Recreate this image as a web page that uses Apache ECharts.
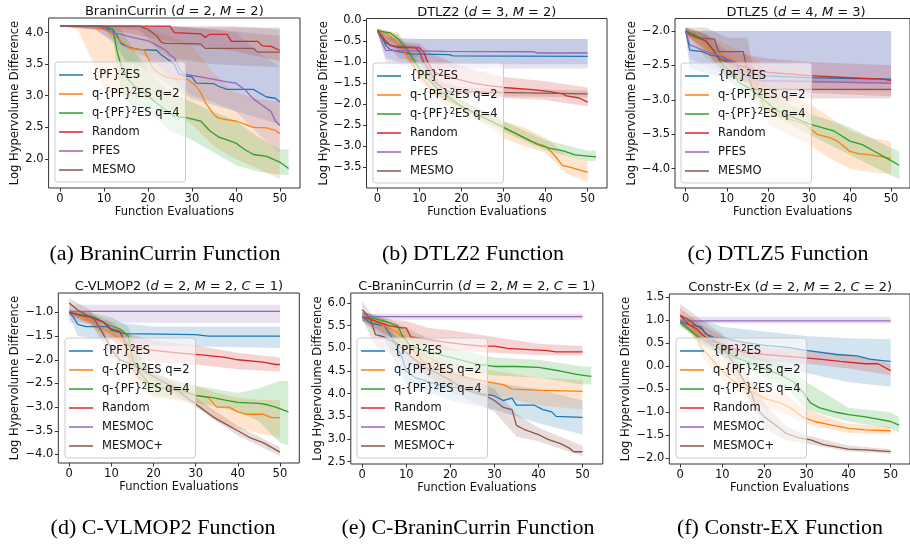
<!DOCTYPE html>
<html>
<head>
<meta charset="utf-8">
<script src="https://cdn.jsdelivr.net/npm/echarts@6/dist/echarts.min.js"></script>
<style>
html,body{margin:0;padding:0;background:#fff}
#chart{width:910px;height:548px}
</style>
</head>
<body>
<div id="chart"></div>
<script>
// tab10 colours, same order as the legends
const colors = ['#1f77b4','#ff7f0e','#2ca02c','#d62728','#9467bd','#8c564b']
const xTicks = [0,10,20,30,40,50]
const topNames = ['{PF}²ES','q-{PF}²ES q=2','q-{PF}²ES q=4','Random','PFES','MESMO']
const botNames = ['{PF}²ES','q-{PF}²ES q=2','q-{PF}²ES q=4','Random','MESMOC','MESMOC+']

const aTicks = [2.0,2.5,3.0,3.5,4.0]
const bTicks = [-3.5,-3.0,-2.5,-2.0,-1.5,-1.0,-0.5,0.0]
const cTicks = [-4.0,-3.5,-3.0,-2.5,-2.0]
const dTicks = [-4.0,-3.5,-3.0,-2.5,-2.0,-1.5,-1.0]
const eTicks = [2.5,3.0,3.5,4.0,4.5,5.0,5.5,6.0]
const fTicks = [-2.0,-1.5,-1.0,-0.5,0.0,0.5,1.0,1.5]

// mean curves [x, y] and bands [x, low, high]
// (a) BraninCurrin
const a_pf2es = [[0,4.1],[8,4.1],[10,4.07],[12,4.05],[13,3.95],[14,3.82],[16,3.76],[18,3.73],[22,3.72],[23,3.65],[24,3.6],[26,3.5],[27,3.35],[28,3.32],[30,3.3],[31,3.2],[35,3.19],[36,3.15],[38,3.1],[44,3.1],[45,3.06],[47,2.98],[49,2.96],[50,2.9]]
const a_pf2es_band = [[0,4.1,4.1],[8,4.05,4.1],[12,3.85,4.1],[15,3.55,4.1],[20,3.4,4.1],[25,3.15,4.1],[30,2.95,4.08],[35,2.85,4.08],[40,2.75,4.08],[45,2.65,4.08],[50,2.55,4.08]]
const a_q2 = [[0,4.1],[5,4.1],[8,4.08],[10,4.05],[12,3.98],[14,3.85],[16,3.75],[19,3.73],[20,3.6],[21,3.45],[22,3.38],[24,3.3],[26,3.27],[29,3.26],[31,3.15],[32,3.05],[33,2.9],[35,2.7],[36,2.65],[38,2.62],[40,2.6],[42,2.55],[44,2.5],[47,2.49],[49,2.45],[50,2.4]]
const a_q2_band = [[0,4.1,4.1],[4,4.05,4.1],[7,3.6,4.1],[10,3.1,4.1],[15,3.0,4.1],[20,2.95,4.05],[25,2.8,3.95],[30,2.55,3.8],[35,2.2,3.35],[40,2.0,3.05],[45,1.85,2.95],[50,1.68,2.9]]
const a_q4 = [[0,4.1],[10,4.1],[12,4.05],[13,3.7],[14,3.45],[15,3.3],[17,3.15],[20,3.0],[22,2.88],[24,2.78],[26,2.68],[29,2.65],[32,2.6],[34,2.45],[36,2.35],[38,2.3],[40,2.25],[42,2.15],[44,2.07],[47,2.04],[50,1.95],[52,1.85]]
const a_q4_band = [[0,4.1,4.1],[10,4.05,4.1],[12,3.9,4.1],[14,3.0,4.05],[16,2.85,3.8],[20,2.75,3.4],[25,2.45,3.05],[30,2.3,2.9],[35,2.1,2.75],[40,1.9,2.6],[45,1.8,2.35],[50,1.75,2.15],[52,1.75,2.15]]
const a_random = [[0,4.1],[25,4.1],[26,4.0],[32,3.98],[33,3.92],[34,3.97],[38,3.97],[39,3.86],[45,3.86],[46,3.79],[48,3.78],[50,3.72]]
const a_random_band = [[0,4.1,4.1],[15,4.0,4.1],[25,3.85,4.1],[30,3.8,4.1],[40,3.7,4.1],[50,3.55,4.05]]
const a_pfes = [[0,4.1],[8,4.1],[10,4.07],[12,4.0],[14,3.97],[16,3.93],[18,3.9],[20,3.87],[22,3.8],[24,3.72],[25,3.65],[26,3.6],[27,3.45],[28,3.35],[30,3.32],[32,3.3],[35,3.26],[38,3.22],[40,3.2],[42,3.1],[44,2.95],[46,2.85],[48,2.75],[49,2.6],[50,2.53]]
const a_pfes_band = [[0,4.1,4.1],[8,4.05,4.1],[15,3.75,4.1],[20,3.6,4.1],[25,3.3,4.1],[30,3.0,4.08],[35,2.9,4.05],[40,2.75,4.0],[45,2.4,3.7],[50,2.1,3.45]]
const a_mesmo = [[0,4.1],[18,4.1],[20,4.05],[22,3.95],[23,3.85],[24,3.83],[32,3.82],[33,3.75],[44,3.75],[45,3.69],[50,3.69]]
const a_mesmo_band = [[0,4.1,4.1],[18,4.05,4.1],[22,3.75,4.1],[25,3.6,4.1],[35,3.5,4.05],[50,3.45,3.95]]

// (b) DTLZ2
const b_pf2es = [[0,-0.25],[1,-0.4],[2,-0.6],[3,-0.7],[5,-0.75],[8,-0.8],[17,-0.82],[18,-0.85],[50,-0.86]]
const b_pf2es_band = [[0,-0.3,-0.2],[2,-0.9,-0.4],[5,-1.0,-0.45],[10,-1.05,-0.45],[20,-1.05,-0.45],[50,-1.05,-0.45]]
const b_q2 = [[0,-0.25],[2,-0.3],[4,-0.45],[6,-0.7],[8,-1.0],[10,-1.3],[12,-1.55],[14,-1.75],[17,-1.9],[20,-2.05],[23,-2.2],[26,-2.35],[30,-2.55],[34,-2.75],[37,-2.9],[40,-3.0],[42,-3.2],[44,-3.45],[46,-3.5],[50,-3.62]]
const b_q2_band = [[0,-0.3,-0.2],[5,-0.6,-0.3],[10,-1.45,-1.1],[15,-1.95,-1.6],[20,-2.2,-1.9],[25,-2.45,-2.15],[30,-2.8,-2.4],[35,-3.0,-2.55],[40,-3.15,-2.8],[45,-3.65,-3.2],[50,-3.85,-3.35]]
const b_q4 = [[0,-0.25],[3,-0.3],[5,-0.45],[7,-0.7],[9,-1.0],[11,-1.3],[13,-1.5],[15,-1.7],[18,-1.9],[20,-2.05],[24,-2.25],[29,-2.5],[32,-2.65],[35,-2.8],[38,-2.95],[41,-3.05],[44,-3.1],[47,-3.2],[50,-3.23],[52,-3.25]]
const b_q4_band = [[0,-0.3,-0.2],[5,-0.55,-0.35],[10,-1.3,-1.0],[15,-1.85,-1.55],[20,-2.15,-1.9],[30,-2.65,-2.4],[40,-3.1,-2.85],[50,-3.35,-3.1],[52,-3.35,-3.1]]
const b_random = [[0,-0.25],[2,-0.5],[3,-0.6],[5,-0.65],[10,-0.66],[11,-0.75],[12,-1.0],[13,-1.2],[15,-1.3],[19,-1.4],[23,-1.5],[26,-1.55],[30,-1.6],[37,-1.65],[41,-1.7],[44,-1.75],[45,-1.8],[48,-1.85],[50,-1.95]]
const b_random_band = [[0,-0.3,-0.2],[5,-0.9,-0.5],[10,-1.0,-0.55],[13,-1.5,-0.8],[20,-1.7,-1.1],[30,-1.85,-1.35],[40,-1.9,-1.45],[50,-2.05,-1.6]]
const b_pfes = [[0,-0.25],[1,-0.5],[2,-0.72],[16,-0.74],[37,-0.75],[38,-0.78],[50,-0.78]]
const b_pfes_band = [[0,-0.3,-0.2],[2,-1.0,-0.4],[10,-1.15,-0.45],[50,-1.15,-0.45]]
const b_mesmo = [[0,-0.25],[2,-0.55],[4,-0.62],[9,-0.65],[10,-0.75],[11,-1.0],[12,-1.15],[13,-1.3],[14,-1.5],[16,-1.65],[17,-1.7],[50,-1.75]]
const b_mesmo_band = [[0,-0.3,-0.2],[5,-0.75,-0.55],[10,-0.9,-0.6],[12,-1.35,-0.95],[15,-1.8,-1.45],[20,-1.8,-1.6],[50,-1.83,-1.67]]

// (c) DTLZ5
const c_pf2es = [[0,-2.0],[1,-2.28],[4,-2.3],[6,-2.35],[9,-2.38],[10,-2.42],[12,-2.45],[13,-2.55],[15,-2.6],[18,-2.65],[30,-2.68],[50,-2.7]]
const c_pf2es_band = [[0,-2.05,-1.95],[1,-2.55,-2.0],[10,-2.7,-2.0],[20,-2.75,-2.0],[50,-2.75,-2.0]]
const c_q2 = [[0,-2.0],[2,-2.1],[4,-2.2],[6,-2.3],[9,-2.35],[11,-2.4],[13,-2.5],[15,-2.6],[17,-2.75],[19,-3.1],[20,-3.15],[22,-3.2],[25,-3.28],[29,-3.35],[32,-3.5],[35,-3.55],[37,-3.6],[40,-3.75],[42,-3.78],[45,-3.8],[50,-3.85]]
const c_q2_band = [[0,-2.05,-1.95],[5,-2.4,-2.05],[10,-2.6,-2.2],[15,-2.85,-2.35],[18,-3.0,-2.45],[20,-3.35,-2.8],[25,-3.5,-2.95],[30,-3.65,-3.05],[35,-3.85,-3.25],[40,-4.0,-3.45],[45,-4.05,-3.55],[50,-4.08,-3.6]]
const c_q4 = [[0,-2.0],[2,-2.05],[5,-2.15],[7,-2.3],[9,-2.5],[11,-2.6],[13,-2.75],[16,-2.85],[19,-3.0],[22,-3.15],[26,-3.25],[30,-3.35],[33,-3.4],[36,-3.45],[40,-3.6],[43,-3.65],[46,-3.75],[49,-3.85],[52,-3.95]]
const c_q4_band = [[0,-2.05,-1.95],[5,-2.3,-2.05],[10,-2.7,-2.4],[15,-2.95,-2.7],[20,-3.2,-2.9],[30,-3.5,-3.2],[40,-3.8,-3.4],[50,-4.1,-3.7],[52,-4.15,-3.75]]
const c_random = [[0,-2.0],[1,-2.05],[3,-2.1],[5,-2.15],[7,-2.3],[8,-2.4],[10,-2.45],[13,-2.5],[16,-2.55],[20,-2.6],[30,-2.65],[40,-2.68],[48,-2.7],[50,-2.72]]
const c_random_band = [[0,-2.05,-1.95],[5,-2.3,-2.05],[10,-2.65,-2.3],[20,-2.85,-2.4],[30,-2.9,-2.45],[50,-2.95,-2.5]]
const c_pfes = [[0,-2.0],[1,-2.2],[5,-2.3],[8,-2.35],[12,-2.45],[13,-2.6],[15,-2.65],[18,-2.72],[50,-2.76]]
const c_pfes_band = [[0,-2.05,-1.95],[1,-2.4,-2.0],[10,-2.65,-2.0],[20,-2.85,-2.0],[50,-2.88,-2.0]]
const c_mesmo = [[0,-2.0],[1,-2.05],[3,-2.1],[7,-2.12],[8,-2.3],[14,-2.3],[15,-2.55],[16,-2.8],[17,-2.85],[50,-2.85]]
const c_mesmo_band = [[0,-2.05,-1.95],[5,-2.25,-1.95],[10,-2.45,-2.1],[15,-2.7,-2.1],[17,-2.98,-2.7],[50,-2.98,-2.7]]

// (d) C-VLMOP2
const d_pf2es = [[0,-1.0],[1,-1.1],[2,-1.25],[4,-1.3],[9,-1.3],[10,-1.38],[13,-1.45],[30,-1.47],[33,-1.5],[50,-1.5]]
const d_pf2es_band = [[0,-1.05,-0.95],[2,-1.5,-1.05],[10,-1.6,-1.2],[20,-1.7,-1.3],[50,-1.75,-1.3]]
const d_q2 = [[0,-1.0],[2,-1.05],[4,-1.15],[6,-1.25],[8,-1.35],[10,-1.45],[12,-1.55],[13,-1.65],[14,-1.9],[15,-2.2],[17,-2.4],[19,-2.5],[22,-2.6],[25,-2.65],[30,-2.75],[33,-2.8],[35,-3.0],[38,-3.0],[40,-3.1],[42,-3.15],[46,-3.15],[48,-3.22],[50,-3.22]]
const d_q2_band = [[0,-1.05,-0.95],[5,-1.3,-1.05],[10,-1.6,-1.3],[13,-1.8,-1.4],[15,-2.5,-1.8],[20,-2.8,-2.3],[25,-2.85,-2.45],[30,-2.95,-2.55],[35,-3.3,-2.7],[40,-3.45,-2.8],[45,-3.55,-2.85],[50,-3.65,-2.85]]
const d_q4 = [[0,-1.0],[3,-1.05],[6,-1.1],[9,-1.25],[12,-1.35],[14,-1.5],[15,-2.0],[17,-2.3],[19,-2.5],[22,-2.6],[27,-2.65],[30,-2.75],[34,-2.8],[37,-2.85],[40,-2.9],[45,-2.92],[47,-2.95],[49,-3.0],[52,-3.1]]
const d_q4_band = [[0,-1.05,-0.95],[5,-1.2,-1.0],[10,-1.45,-1.1],[14,-1.75,-1.3],[16,-2.4,-1.8],[20,-2.75,-2.3],[30,-2.9,-2.55],[40,-3.1,-2.7],[45,-3.3,-2.6],[50,-3.75,-2.45],[52,-3.8,-2.45]]
const d_random = [[0,-1.0],[2,-1.05],[5,-1.1],[8,-1.2],[10,-1.35],[12,-1.4],[13,-1.6],[14,-1.7],[17,-1.75],[20,-1.8],[25,-1.85],[32,-1.9],[37,-1.95],[40,-2.0],[46,-2.05],[49,-2.1],[50,-2.1]]
const d_random_band = [[0,-1.05,-0.95],[5,-1.25,-1.0],[10,-1.55,-1.2],[14,-1.95,-1.45],[20,-2.05,-1.6],[30,-2.1,-1.7],[40,-2.2,-1.85],[50,-2.25,-1.95]]
const d_mesmoc = [[0,-0.98],[50,-0.98]]
const d_mesmoc_band = [[0,-1.22,-0.84],[50,-1.22,-0.84]]
const d_mesmocp = [[0,-0.8],[2,-0.95],[4,-1.05],[6,-1.15],[7,-1.3],[9,-1.6],[10,-1.8],[12,-2.0],[15,-2.1],[18,-2.25],[21,-2.4],[25,-2.6],[28,-2.8],[31,-3.0],[34,-3.2],[38,-3.4],[40,-3.5],[43,-3.65],[46,-3.75],[48,-3.85],[50,-3.95]]
const d_mesmocp_band = [[0,-1.0,-0.7],[5,-1.2,-0.95],[10,-1.95,-1.65],[20,-2.45,-2.2],[30,-3.0,-2.8],[40,-3.6,-3.4],[50,-4.03,-3.85]]

// (e) C-BraninCurrin
const e_pf2es = [[0,5.7],[2,5.55],[5,5.5],[7,5.2],[8,5.0],[9,4.8],[10,4.5],[12,4.35],[14,4.3],[17,4.2],[20,4.15],[24,4.1],[27,4.0],[30,3.95],[32,3.85],[34,3.9],[35,3.75],[39,3.75],[41,3.65],[43,3.6],[44,3.5],[50,3.48]]
const e_pf2es_band = [[0,5.6,5.8],[5,5.2,5.65],[10,4.2,4.85],[20,3.85,4.45],[30,3.65,4.25],[40,3.35,4.1],[50,3.1,3.85]]
const e_q2 = [[0,5.7],[3,5.6],[5,5.5],[8,5.35],[10,5.15],[12,4.9],[14,4.7],[17,4.55],[20,4.45],[24,4.35],[29,4.25],[32,4.2],[34,4.1],[40,4.08],[50,4.05]]
const e_q2_band = [[0,5.6,5.8],[5,5.35,5.65],[10,4.9,5.4],[15,4.35,4.95],[20,4.2,4.7],[30,3.95,4.5],[40,3.75,4.35],[50,3.65,4.3]]
const e_q4 = [[0,5.7],[3,5.65],[5,5.6],[8,5.5],[9,5.3],[11,5.05],[14,4.95],[18,4.85],[22,4.75],[26,4.65],[30,4.6],[35,4.6],[40,4.58],[45,4.5],[49,4.42],[52,4.38]]
const e_q4_band = [[0,5.6,5.8],[5,5.45,5.7],[10,5.0,5.45],[20,4.55,5.0],[30,4.4,4.8],[40,4.35,4.75],[50,4.2,4.6],[52,4.2,4.6]]
const e_random = [[0,5.7],[3,5.6],[6,5.5],[9,5.45],[10,5.45],[11,5.25],[15,5.2],[18,5.15],[22,5.1],[27,5.05],[30,5.05],[33,5.0],[38,4.97],[42,4.95],[44,4.92],[50,4.92]]
const e_random_band = [[0,5.6,5.8],[5,5.3,5.65],[10,5.2,5.6],[15,5.0,5.45],[20,4.95,5.4],[30,4.9,5.25],[40,4.85,5.1],[50,4.85,5.05]]
const e_mesmoc = [[0,5.7],[50,5.7]]
const e_mesmoc_band = [[0,5.63,5.77],[50,5.63,5.77]]
const e_mesmocp = [[0,5.85],[1,5.75],[2,5.6],[3,5.3],[5,5.25],[8,5.1],[10,4.9],[12,4.75],[14,4.6],[17,4.45],[20,4.3],[23,4.1],[26,4.0],[28,3.95],[30,3.85],[32,3.7],[34,3.65],[35,3.3],[37,3.2],[40,3.1],[42,3.0],[45,2.9],[47,2.8],[48,2.72],[50,2.72]]
const e_mesmocp_band = [[0,5.65,6.05],[3,5.05,5.6],[10,4.7,5.1],[20,4.05,4.55],[30,3.6,4.1],[35,3.05,3.55],[40,2.95,3.25],[50,2.62,2.85]]

// (f) Constr-Ex
const f_pf2es = [[0,0.95],[2,0.9],[5,0.85],[6,0.7],[8,0.62],[11,0.6],[13,0.55],[16,0.5],[20,0.45],[26,0.4],[29,0.35],[33,0.3],[37,0.25],[42,0.22],[45,0.15],[48,0.12],[50,0.1]]
const f_pf2es_band = [[0,0.9,1.0],[5,0.55,1.0],[10,0.2,0.85],[20,0.05,0.75],[30,-0.15,0.65],[40,-0.35,0.6],[50,-0.45,0.58]]
const f_q2 = [[0,1.0],[2,0.95],[3,0.85],[5,0.4],[7,0.2],[9,0.0],[11,-0.2],[13,-0.35],[16,-0.5],[18,-0.6],[20,-0.7],[24,-0.8],[27,-0.95],[29,-1.1],[32,-1.2],[36,-1.28],[40,-1.35],[44,-1.38],[50,-1.4]]
const f_q2_band = [[0,0.9,1.1],[3,0.7,1.0],[5,0.2,0.6],[10,-0.3,0.15],[15,-0.65,-0.25],[20,-0.9,-0.5],[25,-1.05,-0.6],[30,-1.25,-0.95],[40,-1.45,-1.25],[50,-1.48,-1.32]]
const f_q4 = [[0,0.95],[2,0.8],[4,0.65],[7,0.5],[10,0.35],[13,0.2],[17,0.05],[20,-0.05],[24,-0.2],[27,-0.35],[29,-0.55],[31,-0.8],[33,-0.9],[37,-1.0],[40,-1.05],[44,-1.1],[47,-1.15],[50,-1.2],[52,-1.28]]
const f_q4_band = [[0,0.9,1.0],[5,0.45,0.75],[10,0.2,0.5],[20,-0.25,0.15],[25,-0.45,0.0],[30,-0.95,-0.35],[40,-1.2,-0.9],[50,-1.35,-1.0],[52,-1.45,-1.1]]
const f_random = [[0,1.1],[2,0.9],[4,0.8],[5,0.7],[7,0.55],[9,0.5],[12,0.4],[15,0.3],[20,0.25],[27,0.2],[33,0.15],[38,0.1],[44,0.05],[47,0.05],[49,-0.05],[50,-0.1]]
const f_random_band = [[0,0.95,1.25],[5,0.5,0.9],[10,0.3,0.65],[20,0.1,0.4],[30,0.05,0.35],[40,-0.05,0.25],[50,-0.2,0.05]]
const f_mesmoc = [[0,0.98],[50,0.98]]
const f_mesmoc_band = [[0,0.92,1.07],[50,0.92,1.07]]
const f_mesmocp = [[0,1.1],[2,1.0],[5,0.8],[8,0.55],[10,0.45],[11,0.3],[13,0.0],[15,-0.3],[17,-0.6],[18,-0.9],[20,-1.1],[23,-1.3],[25,-1.45],[28,-1.55],[31,-1.6],[34,-1.7],[37,-1.75],[40,-1.8],[45,-1.82],[50,-1.85]]
const f_mesmocp_band = [[0,0.85,1.35],[5,0.6,1.0],[10,0.2,0.7],[15,-0.5,0.0],[20,-1.35,-0.8],[25,-1.6,-1.3],[30,-1.68,-1.5],[40,-1.85,-1.72],[50,-1.9,-1.8]]

const panels = [
	{title:'{n|BraninCurrin (}{i|d}{n| = 2, }{i|M}{n| = 2)}', caption:'(a) BraninCurrin Function', grid:[48.6,18,251.4,170], y:[1.54,4.23], ticks:aTicks, names:topNames,
		lines:[a_pf2es,a_q2,a_q4,a_random,a_pfes,a_mesmo], bands:[a_pf2es_band,a_q2_band,a_q4_band,a_random_band,a_pfes_band,a_mesmo_band], legend:[55,62], nameGap:26, cap:[165,254]},
	{title:'{n|DTLZ2 (}{i|d}{n| = 3, }{i|M}{n| = 2)}', caption:'(b) DTLZ2 Function', grid:[366.5,18.5,240.5,169.5], y:[-3.99,0.04], ticks:bTicks, names:topNames,
		lines:[b_pf2es,b_q2,b_q4,b_random,b_pfes,b_mesmo], bands:[b_pf2es_band,b_q2_band,b_q4_band,b_random_band,b_pfes_band,b_mesmo_band], legend:[373,63], nameGap:34, cap:[473,254]},
	{title:'{n|DTLZ5 (}{i|d}{n| = 4, }{i|M}{n| = 3)}', caption:'(c) DTLZ5 Function', grid:[675,18.5,242,169.5], y:[-4.28,-1.82], ticks:cTicks, names:topNames,
		lines:[c_pf2es,c_q2,c_q4,c_random,c_pfes,c_mesmo], bands:[c_pf2es_band,c_q2_band,c_q4_band,c_random_band,c_pfes_band,c_mesmo_band], legend:[681,63], nameGap:35, cap:[778,254]},
	{title:'{n|C-VLMOP2 (}{i|d}{n| = 2, }{i|M}{n| = 2, }{i|C}{n| = 1)}', caption:'(d) C-VLMOP2 Function', grid:[58.3,293,241,170], y:[-4.18,-0.59], ticks:dTicks, names:botNames,
		lines:[d_pf2es,d_q2,d_q4,d_random,d_mesmoc,d_mesmocp], bands:[d_pf2es_band,d_q2_band,d_q4_band,d_random_band,d_mesmoc_band,d_mesmocp_band], legend:[65,338], nameGap:35, cap:[163,528]},
	{title:'{n|C-BraninCurrin (}{i|d}{n| = 2, }{i|M}{n| = 2, }{i|C}{n| = 1)}', caption:'(e) C-BraninCurrin Function', grid:[350.8,293,252,171], y:[2.45,6.22], ticks:eTicks, names:botNames,
		lines:[e_pf2es,e_q2,e_q4,e_random,e_mesmoc,e_mesmocp], bands:[e_pf2es_band,e_q2_band,e_q4_band,e_random_band,e_mesmoc_band,e_mesmocp_band], legend:[357,338], nameGap:26, cap:[468,528]},
	{title:'{n|Constr-Ex (}{i|d}{n| = 2, }{i|M}{n| = 2, }{i|C}{n| = 2)}', caption:'(f) Constr-EX Function', grid:[669.3,294,241.8,170], y:[-2.12,1.56], ticks:fTicks, names:botNames,
		lines:[f_pf2es,f_q2,f_q4,f_random,f_mesmoc,f_mesmocp], bands:[f_pf2es_band,f_q2_band,f_q4_band,f_random_band,f_mesmoc_band,f_mesmocp_band], legend:[676,338], nameGap:35, cap:[780,528]}
]

const font = 'DejaVu Sans'
function rgba(hex, a){
	const n = parseInt(hex.slice(1), 16)
	return `rgba(${n >> 16},${(n >> 8) & 255},${n & 255},${a})`
}
const fmt = v => v.toFixed(1).replace('-', '\u2212')

// one polygon per band, built from all its [x, low, high] rows through the axes
function bandItem(fill){
	return (params, api) => {
		if (params.dataIndexInside !== 0) return null
		const n = params.dataInsideLength
		const top = [], bottom = []
		for (let k = 0; k < n; k++) {
			top.push(api.coord([api.value(0, k), api.value(2, k)]))
			bottom.unshift(api.coord([api.value(0, k), api.value(1, k)]))
		}
		return {type:'polygon', shape:{points:top.concat(bottom)}, style:{fill:fill}}
	}
}

let grid = [], xAxis = [], yAxis = [], series = [], legend = [], title = []
panels.forEach((p, i) => {
	grid.push({left:p.grid[0], top:p.grid[1], width:p.grid[2], height:p.grid[3], show:true, borderColor:'#333', borderWidth:1})
	xAxis.push({
		type:'value', gridIndex:i, min:-2.6, max:54.6,
		axisLine:{show:false, onZero:false},
		axisTick:{customValues:xTicks, length:3.5, lineStyle:{color:'#333'}},
		axisLabel:{customValues:xTicks, margin:5, color:'#111', fontFamily:font, fontSize:11.5},
		splitLine:{show:false},
		name:'Function Evaluations', nameLocation:'middle', nameGap:16,
		nameTextStyle:{color:'#111', fontFamily:font, fontSize:11.5}
	})
	yAxis.push({
		type:'value', gridIndex:i, min:p.y[0], max:p.y[1],
		axisLine:{show:false, onZero:false},
		axisTick:{customValues:p.ticks, length:3.5, lineStyle:{color:'#333'}},
		axisLabel:{customValues:p.ticks, margin:5, color:'#111', fontFamily:font, fontSize:11.5, formatter:fmt},
		splitLine:{show:false},
		name:'Log Hypervolume Difference', nameLocation:'middle', nameGap:p.nameGap,
		nameTextStyle:{color:'#111', fontFamily:font, fontSize:11.5}
	})
	p.lines.forEach((line, j) => {
		series.push({
			type:'custom', name:'band ' + i + '-' + j, xAxisIndex:i, yAxisIndex:i,
			data:p.bands[j], encode:{x:0, y:[1,2]}, renderItem:bandItem(rgba(colors[j], 0.2)),
			clip:true, silent:true, z:1
		})
		series.push({
			type:'line', name:p.names[j], xAxisIndex:i, yAxisIndex:i,
			data:line, symbol:'none', z:3, color:colors[j],
			lineStyle:{width:1.3, color:colors[j]}
		})
	})
	legend.push({
		data:p.names, orient:'vertical', left:p.legend[0], top:p.legend[1],
		icon:'rect', itemWidth:24, itemHeight:1.5, itemGap:5, selectedMode:false,
		backgroundColor:'rgba(255,255,255,0.6)', borderColor:'#cccccc', borderWidth:1, borderRadius:3,
		padding:[6,6,5,4],
		// raise the 2 of {PF}²ES like a superscript
		formatter:name => name.replace('²', '{s|2}'),
		textStyle:{fontFamily:font, fontSize:11.5, color:'#111', lineHeight:14, padding:[0,0,0,4],
			rich:{s:{fontFamily:font, fontSize:8.5, color:'#111', lineHeight:9, verticalAlign:'top'}}}
	})
	const cx = p.grid[0] + p.grid[2] / 2
	title.push({
		text:p.title, left:cx, top:p.grid[1] - 6, textAlign:'center', textVerticalAlign:'middle', padding:0,
		textStyle:{rich:{
			n:{fontFamily:font, fontSize:13, fontWeight:'normal', color:'#111'},
			i:{fontFamily:font, fontSize:13, fontWeight:'normal', color:'#111', fontStyle:'italic'}
		}}
	})
	title.push({
		text:p.caption, left:p.cap[0], top:p.cap[1], textAlign:'center', textVerticalAlign:'middle', padding:0,
		textStyle:{fontFamily:'Liberation Serif', fontSize:22, fontWeight:'normal', color:'#000'}
	})
})

const chart = echarts.init(document.getElementById('chart'))
chart.setOption({animation:false, backgroundColor:'#fff', title, grid, xAxis, yAxis, legend, series})
</script>
</body>
</html>
